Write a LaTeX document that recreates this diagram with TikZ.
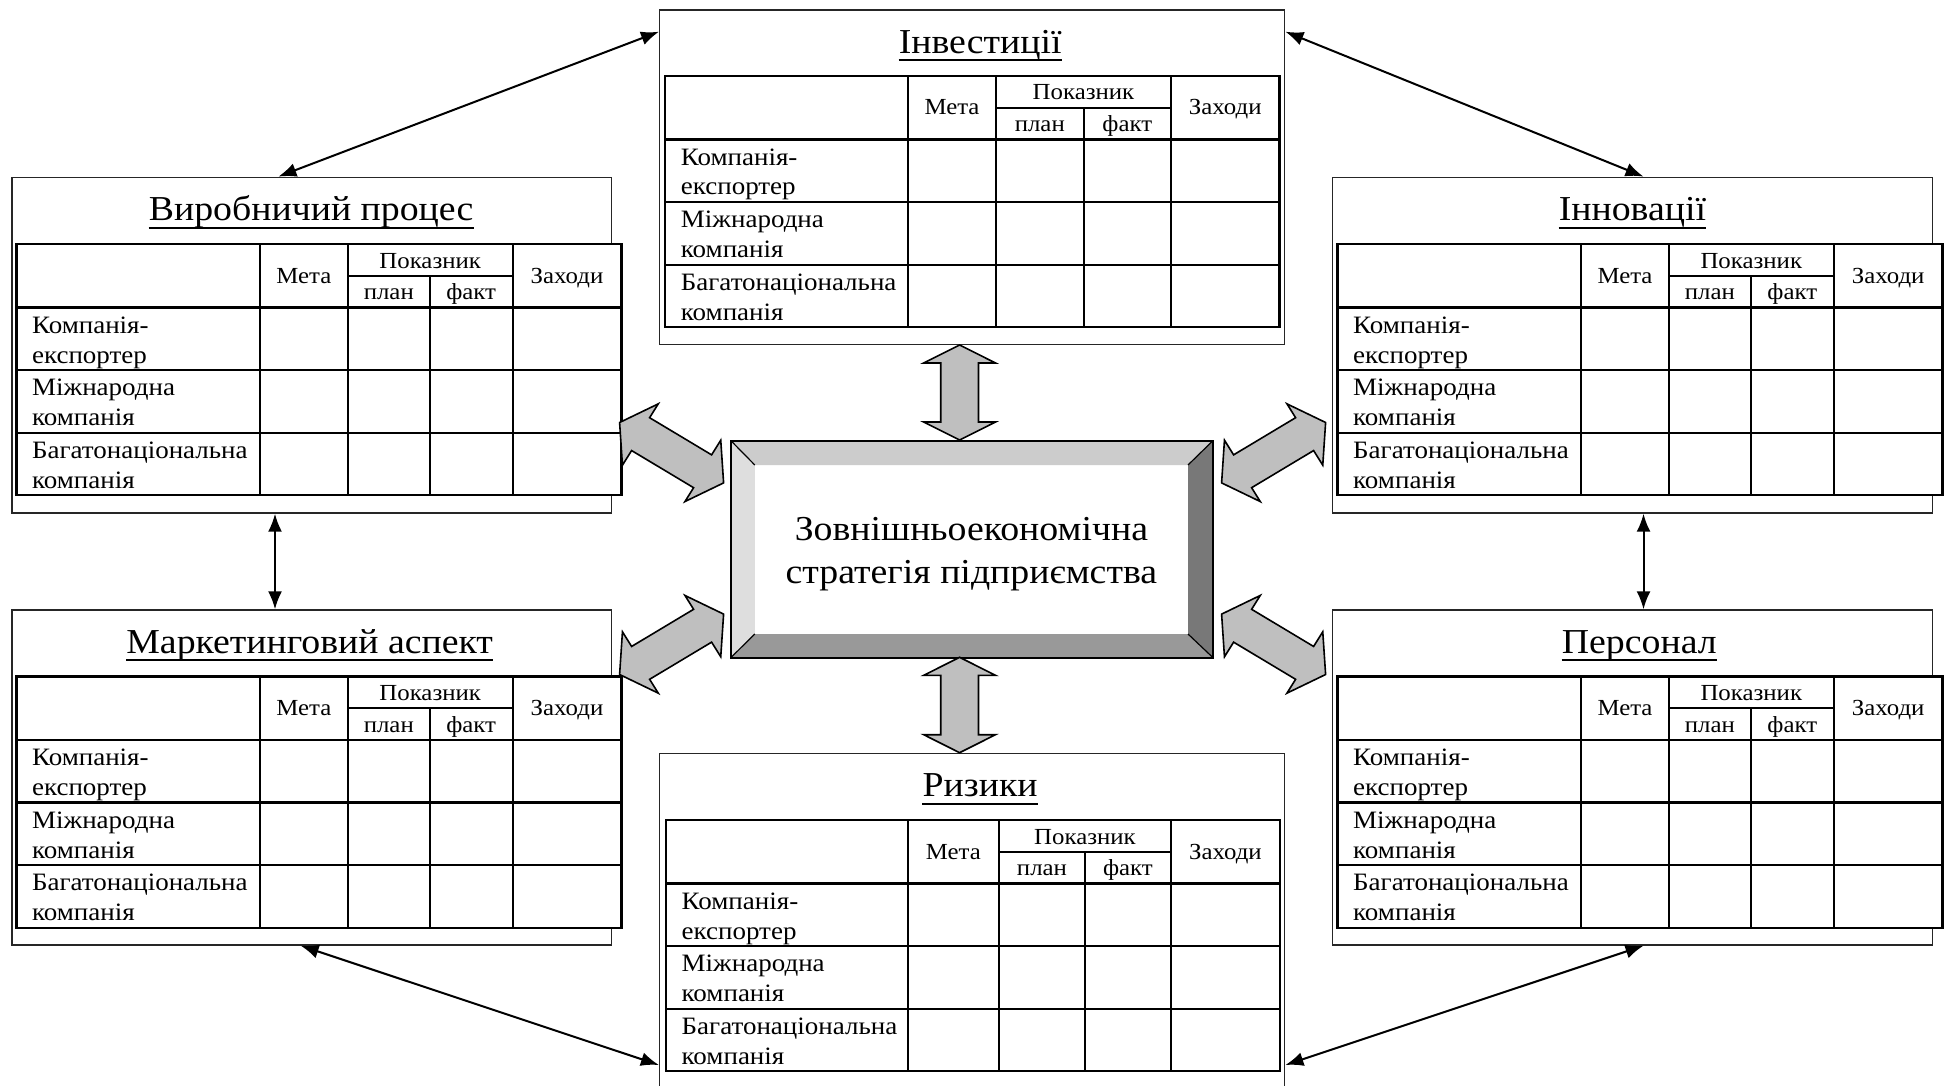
\documentclass[tikz,border=0pt]{standalone}
\usepackage{fontspec}
\setmainfont{Liberation Serif}[FakeStretch=1.08]
\usetikzlibrary{arrows.meta,calc}
\tikzset{
 outerbox/.style={draw=black!85, line width=1.4pt, fill=white, rectangle, inner sep=0pt},
 tline/.style={line width=2.2pt, draw=black},
 blockarr/.style={fill=black!25, draw=black, line width=1.6pt, line join=miter},
 thinarr/.style={line width=2pt, {Latex[length=18pt,width=14pt]}-{Latex[length=18pt,width=14pt]}},
 ttl/.style={font=\fontsize{35}{40}\selectfont, inner sep=0pt, anchor=base},
 hdr/.style={font=\fontsize{23}{26}\selectfont, inner sep=0pt, anchor=base},
 lbl/.style={font=\fontsize{25}{27}\selectfont, inner sep=0pt, anchor=base west},
 ctr/.style={font=\fontsize{35}{43}\selectfont, inner sep=0pt, anchor=base},
}
% #1 name, #2 title, #3 ox, #4 oy, #5 ow, #6 oh, #7 tx, #8 ty, #9 title x offset
\newcommand\mktable[9]{%
  \node[outerbox, minimum width=#5pt, minimum height=#6pt, anchor=north west] (#1) at (#3,#4) {};
  \node[ttl] (#1-t) at (#3+#5/2+#9, #4+44) {#2};
  \draw[line width=2pt] ([yshift=-7pt]#1-t.base west) -- ([yshift=-7pt]#1-t.base east);
  \fill[white] (#7,#8) rectangle (#7+\cE,#8+251.3);
  \draw[tline] (#7,#8) rectangle (#7+\cE,#8+251.3);
  \draw[tline] (#7,#8+63.5) -- (#7+\cE,#8+63.5);
  \draw[tline] (#7,#8+126) -- (#7+\cE,#8+126);
  \draw[tline] (#7,#8+188.7) -- (#7+\cE,#8+188.7);
  \draw[tline] (#7+\cB,#8+31.7) -- (#7+\cD,#8+31.7);
  \draw[tline] (#7+\cA,#8) -- (#7+\cA,#8+251.3);
  \draw[tline] (#7+\cB,#8) -- (#7+\cB,#8+251.3);
  \draw[tline] (#7+\cD,#8) -- (#7+\cD,#8+251.3);
  \draw[tline] (#7+\cC,#8+31.7) -- (#7+\cC,#8+251.3);
  \node[hdr] (#1-m) at (#7+\cA/2+\cB/2, #8+39) {Мета};
  \node[hdr] (#1-p) at (#7+\cB/2+\cD/2, #8+24) {Показник};
  \node[hdr] (#1-pl) at (#7+\cB/2+\cC/2, #8+55.7) {план};
  \node[hdr] (#1-f) at (#7+\cC/2+\cD/2, #8+55.7) {факт};
  \node[hdr] (#1-z) at (#7+\cD/2+\cE/2, #8+39) {Заходи};
  \node[lbl] (#1-a1) at (#7+15.5, #8+63.5+25.7) {Компанія-};
  \node[lbl] (#1-a2) at (#7+15.5, #8+63.5+55.5) {експортер};
  \node[lbl] (#1-b1) at (#7+15.5, #8+126+25.7) {Міжнародна};
  \node[lbl] (#1-b2) at (#7+15.5, #8+126+55.5) {компанія};
  \node[lbl] (#1-c1) at (#7+15.5, #8+188.7+25.7) {Багатонаціональна};
  \node[lbl] (#1-c2) at (#7+15.5, #8+188.7+55.5) {компанія};
}
\newcommand\diagarrow[4]{%
  \begin{scope}[shift={(#1,#2)}, xscale=#3, yscale=#4]
  \draw[blockarr] (-13.35,-48.85) -- (-52,-30.2) -- (-49.15,12.5) -- (-40,-2.15)
     -- (22,35) -- (13.35,48.85) -- (52,30.2) -- (49.15,-12.5) -- (40,2.15)
     -- (-22,-35) -- cycle;
  \end{scope}}
\newcommand\vertarrow[3]{%
  \draw[blockarr] (#1,#2) -- (#1+35.9,#2+18) -- (#1+18.85,#2+18) -- (#1+18.85,#3-18)
     -- (#1+35.9,#3-18) -- (#1,#3) -- (#1-35.9,#3-18) -- (#1-18.85,#3-18)
     -- (#1-18.85,#2+18) -- (#1-35.9,#2+18) -- cycle;}
\begin{document}
\begin{tikzpicture}[x=1pt,y=-1pt]
\clip (0,0) rectangle (1945,1086);
\fill[white] (0,0) rectangle (1945,1086);
% side tables
\def\cA{243.6}\def\cB{331.4}\def\cC{413.4}\def\cD{496.2}\def\cE{605}
\mktable{LT}{Виробничий процес}{11.4}{176.6}{599.6}{335.7}{16.4}{244}{0}
\mktable{LB}{Маркетинговий аспект}{11.4}{609.3}{599.6}{335}{16.4}{676.5}{-1.5}
\mktable{RT}{Інновації}{1332}{176.6}{599.8}{335.7}{1337.5}{244}{0.5}
\mktable{RB}{Персонал}{1332}{609.3}{599.8}{335}{1337.5}{676.5}{7.4}
% centre column tables
\def\cA{242.8}\def\cB{330.8}\def\cC{418.4}\def\cD{505.8}\def\cE{614.3}
\mktable{TC}{Інвестиції}{659}{9.3}{625}{334.7}{665.2}{76}{8.7}
\def\cA{241.7}\def\cB{333}\def\cC{418.9}\def\cD{505}\def\cE{613.7}
\mktable{BC}{Ризики}{658.9}{752.7}{625.1}{400}{666}{820}{8.7}
% central bevelled box
\node[rectangle, inner sep=0pt, minimum width=481.4pt, minimum height=216.3pt, anchor=north west] (C) at (731.2,441) {};
\fill[white] (754.8,465) rectangle (1188,634);
\fill[black!20] (731.2,441) -- (1212.6,441) -- (1188,465) -- (754.8,465) -- cycle;
\fill[black!13] (731.2,441) -- (754.8,465) -- (754.8,634) -- (731.2,657.3) -- cycle;
\fill[black!40] (731.2,657.3) -- (754.8,634) -- (1188,634) -- (1212.6,657.3) -- cycle;
\fill[black!53] (1212.6,441) -- (1188,465) -- (1188,634) -- (1212.6,657.3) -- cycle;
\draw[line width=1.2pt] (731.2,441) -- (754.8,465) (1212.6,441) -- (1188,465)
   (731.2,657.3) -- (754.8,634) (1212.6,657.3) -- (1188,634);
\draw[line width=2.2pt] (C.north west) rectangle (C.south east);
\node[ctr] (C1) at (971.4,540) {Зовнішньоекономічна};
\node[ctr] (C2) at (971.4,583.3) {стратегія підприємства};
% block arrows
\vertarrow{959.6}{345}{440}
\vertarrow{959.6}{657.3}{752.7}
\diagarrow{671.6}{452.7}{1}{1}
\diagarrow{1273.6}{452.7}{-1}{1}
\diagarrow{671.6}{644.3}{1}{-1}
\diagarrow{1273.6}{644.3}{-1}{-1}
% thin arrows
\draw[thinarr] ($(LT.north west)+(267,0)$) -- ($(TC.north west)+(0,22.4)$);
\draw[thinarr] ($(TC.north east)+(0,22.4)$) -- ($(RT.north west)+(311.5,0)$);
\draw[thinarr] ($(LT.south west)+(263.6,0)$) -- ($(LB.north west)+(263.6,0)$);
\draw[thinarr] ($(RT.south west)+(311.5,0)$) -- ($(RB.north west)+(311.5,0)$);
\draw[thinarr] ($(LB.south west)+(289.3,0)$) -- ($(BC.north west)+(0,312.3)$);
\draw[thinarr] ($(BC.north east)+(0,312.3)$) -- ($(RB.south west)+(311.5,0)$);
\end{tikzpicture}
\end{document}
